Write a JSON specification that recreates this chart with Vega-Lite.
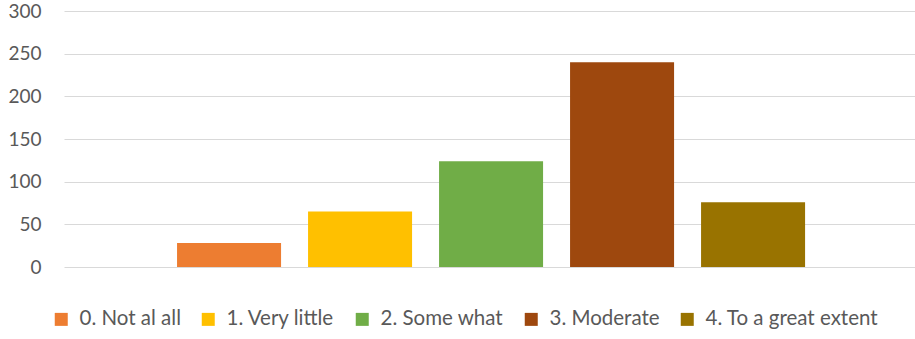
{
  "$schema": "https://vega.github.io/schema/vega-lite/v6.json",
  "autosize": "none",
  "width": 851,
  "height": 256,
  "padding": {"left": 64, "top": 11, "right": 0, "bottom": 72},
  "background": "white",
  "config": {
    "view": {"stroke": null},
    "font": "Lato"
  },
  "data": {
    "values": [
      {"response": "0. Not al all", "count": 28},
      {"response": "1. Very little", "count": 65},
      {"response": "2. Some what", "count": 124},
      {"response": "3. Moderate", "count": 240},
      {"response": "4. To a great extent", "count": 76}
    ]
  },
  "mark": {"type": "bar"},
  "encoding": {
    "x": {
      "field": "response",
      "type": "nominal",
      "sort": null,
      "axis": null,
      "scale": {"paddingInner": 0.206, "paddingOuter": 0.851, "align": 0.507}
    },
    "y": {
      "field": "count",
      "type": "quantitative",
      "scale": {"domain": [0, 300], "nice": false},
      "axis": {
        "values": [0, 50, 100, 150, 200, 250, 300],
        "title": null,
        "domain": false,
        "ticks": false,
        "labelPadding": 23,
        "labelFontSize": 19,
        "labelColor": "#595959",
        "labelFont": "Lato",
        "gridColor": "#D9D9D9",
        "gridWidth": 1
      }
    },
    "color": {
      "field": "response",
      "type": "nominal",
      "sort": null,
      "scale": {
        "domain": ["0. Not al all", "1. Very little", "2. Some what", "3. Moderate", "4. To a great extent"],
        "range": ["#ED7D31", "#FFC000", "#70AD47", "#9E480E", "#997300"]
      },
      "legend": {
        "title": null,
        "orient": "none",
        "direction": "horizontal",
        "legendX": -13,
        "legendY": 298,
        "symbolType": "square",
        "symbolSize": 169,
        "symbolStrokeWidth": 0,
        "symbolOpacity": 1,
        "labelFontSize": 20.5,
        "labelFont": "Lato",
        "labelColor": "#595959",
        "labelOffset": 8,
        "columnPadding": 17,
        "labelLimit": 300
      }
    }
  }
}
